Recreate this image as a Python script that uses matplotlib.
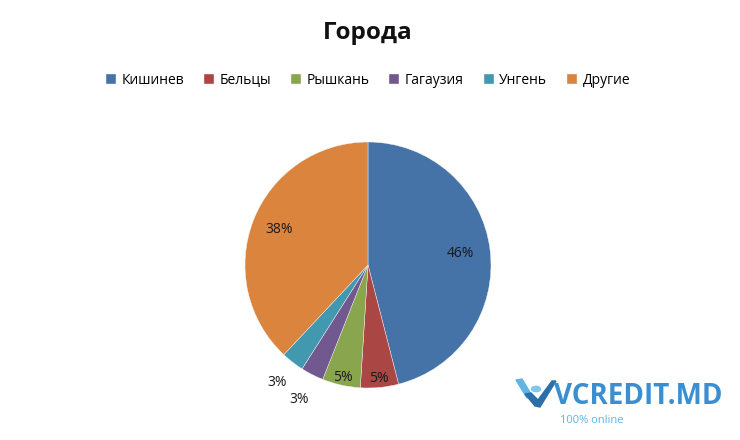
import matplotlib
matplotlib.use("Agg")
import numpy as np
import matplotlib.pyplot as plt
from matplotlib.patches import Polygon, Circle

# данные диаграммы
cities = ["Кишинев", "Бельцы", "Рышкань", "Гагаузия", "Унгень", "Другие"]
shares = [46, 5, 5, 3, 3, 38]
colors = ["#4572A7", "#AA4643", "#89A54E", "#71588F", "#4198AF", "#DB843D"]
title = "Города"

plt.rcParams['font.family'] = ['Open Sans', 'DejaVu Sans']

W, H = 740, 440
fig = plt.figure(figsize=(W / 100, H / 100), dpi=100)
fig.patch.set_facecolor("white")


def fx(x):
    return x / W


def fy(y):
    return 1 - y / H


# круг: центр (368, 265), радиус 123 px
cx, cy, r = 368, 265, 123
ax = fig.add_axes([(cx - r) / W, (H - cy - r) / H, 2 * r / W, 2 * r / H])
wedges, texts, autotexts = ax.pie(
    shares, colors=colors, startangle=90, counterclock=False,
    autopct="%d%%", pctdistance=0.77, radius=1,
    wedgeprops=dict(edgecolor="#f4f4f4", linewidth=0.3),
    textprops=dict(fontsize=10, color="#1a1a1a"))
ax.set_xlim(-1, 1)
ax.set_ylim(-1, 1)
ax.set_aspect("equal")

# сдвиг подписей маленьких секторов
dist = [0.76, 0.93, 0.94, 1.23, 1.21, 0.78]
for w, t, d in zip(wedges, autotexts, dist):
    ang = np.deg2rad((w.theta1 + w.theta2) / 2)
    t.set_position((d * np.cos(ang), d * np.sin(ang)))

fig.text(fx(368), fy(33), title, ha="center", va="center",
         fontsize=17.5, fontweight="bold", color="#111111")

fig.legend(wedges, cities, loc="center", bbox_to_anchor=(fx(368), fy(80)),
           ncol=6, frameon=False, fontsize=10, handlelength=0.7, handleheight=0.7,
           handletextpad=0.4, columnspacing=1.45)

# логотип
fig.patches.append(Polygon([[fx(516), fy(380)], [fx(522), fy(379)], [fx(531), fy(394)],
                            [fx(527), fy(398)]], closed=True, color="#62b4e4",
                           transform=fig.transFigure, figure=fig))
fig.patches.append(Polygon([[fx(525), fy(394)], [fx(531), fy(393)], [fx(538), fy(400)],
                            [fx(552), fy(381)], [fx(556), fy(381)], [fx(540), fy(407)],
                            [fx(535), fy(406)]], closed=True, color="#2c6fa8",
                           transform=fig.transFigure, figure=fig))
fig.patches.append(Circle((fx(536), fy(389)), 4.5 / W, color="#7cc8f0",
                          transform=fig.transFigure, figure=fig))
fig.text(fx(554), fy(396), "VCREDIT.MD", ha="left", va="center",
         fontsize=20, fontweight="bold", color="#3b8fd0")
fig.text(fx(560), fy(420), "100% online", ha="left", va="center",
         fontsize=8, color="#5ab4ea")

fig.savefig("out.png", dpi=100)
